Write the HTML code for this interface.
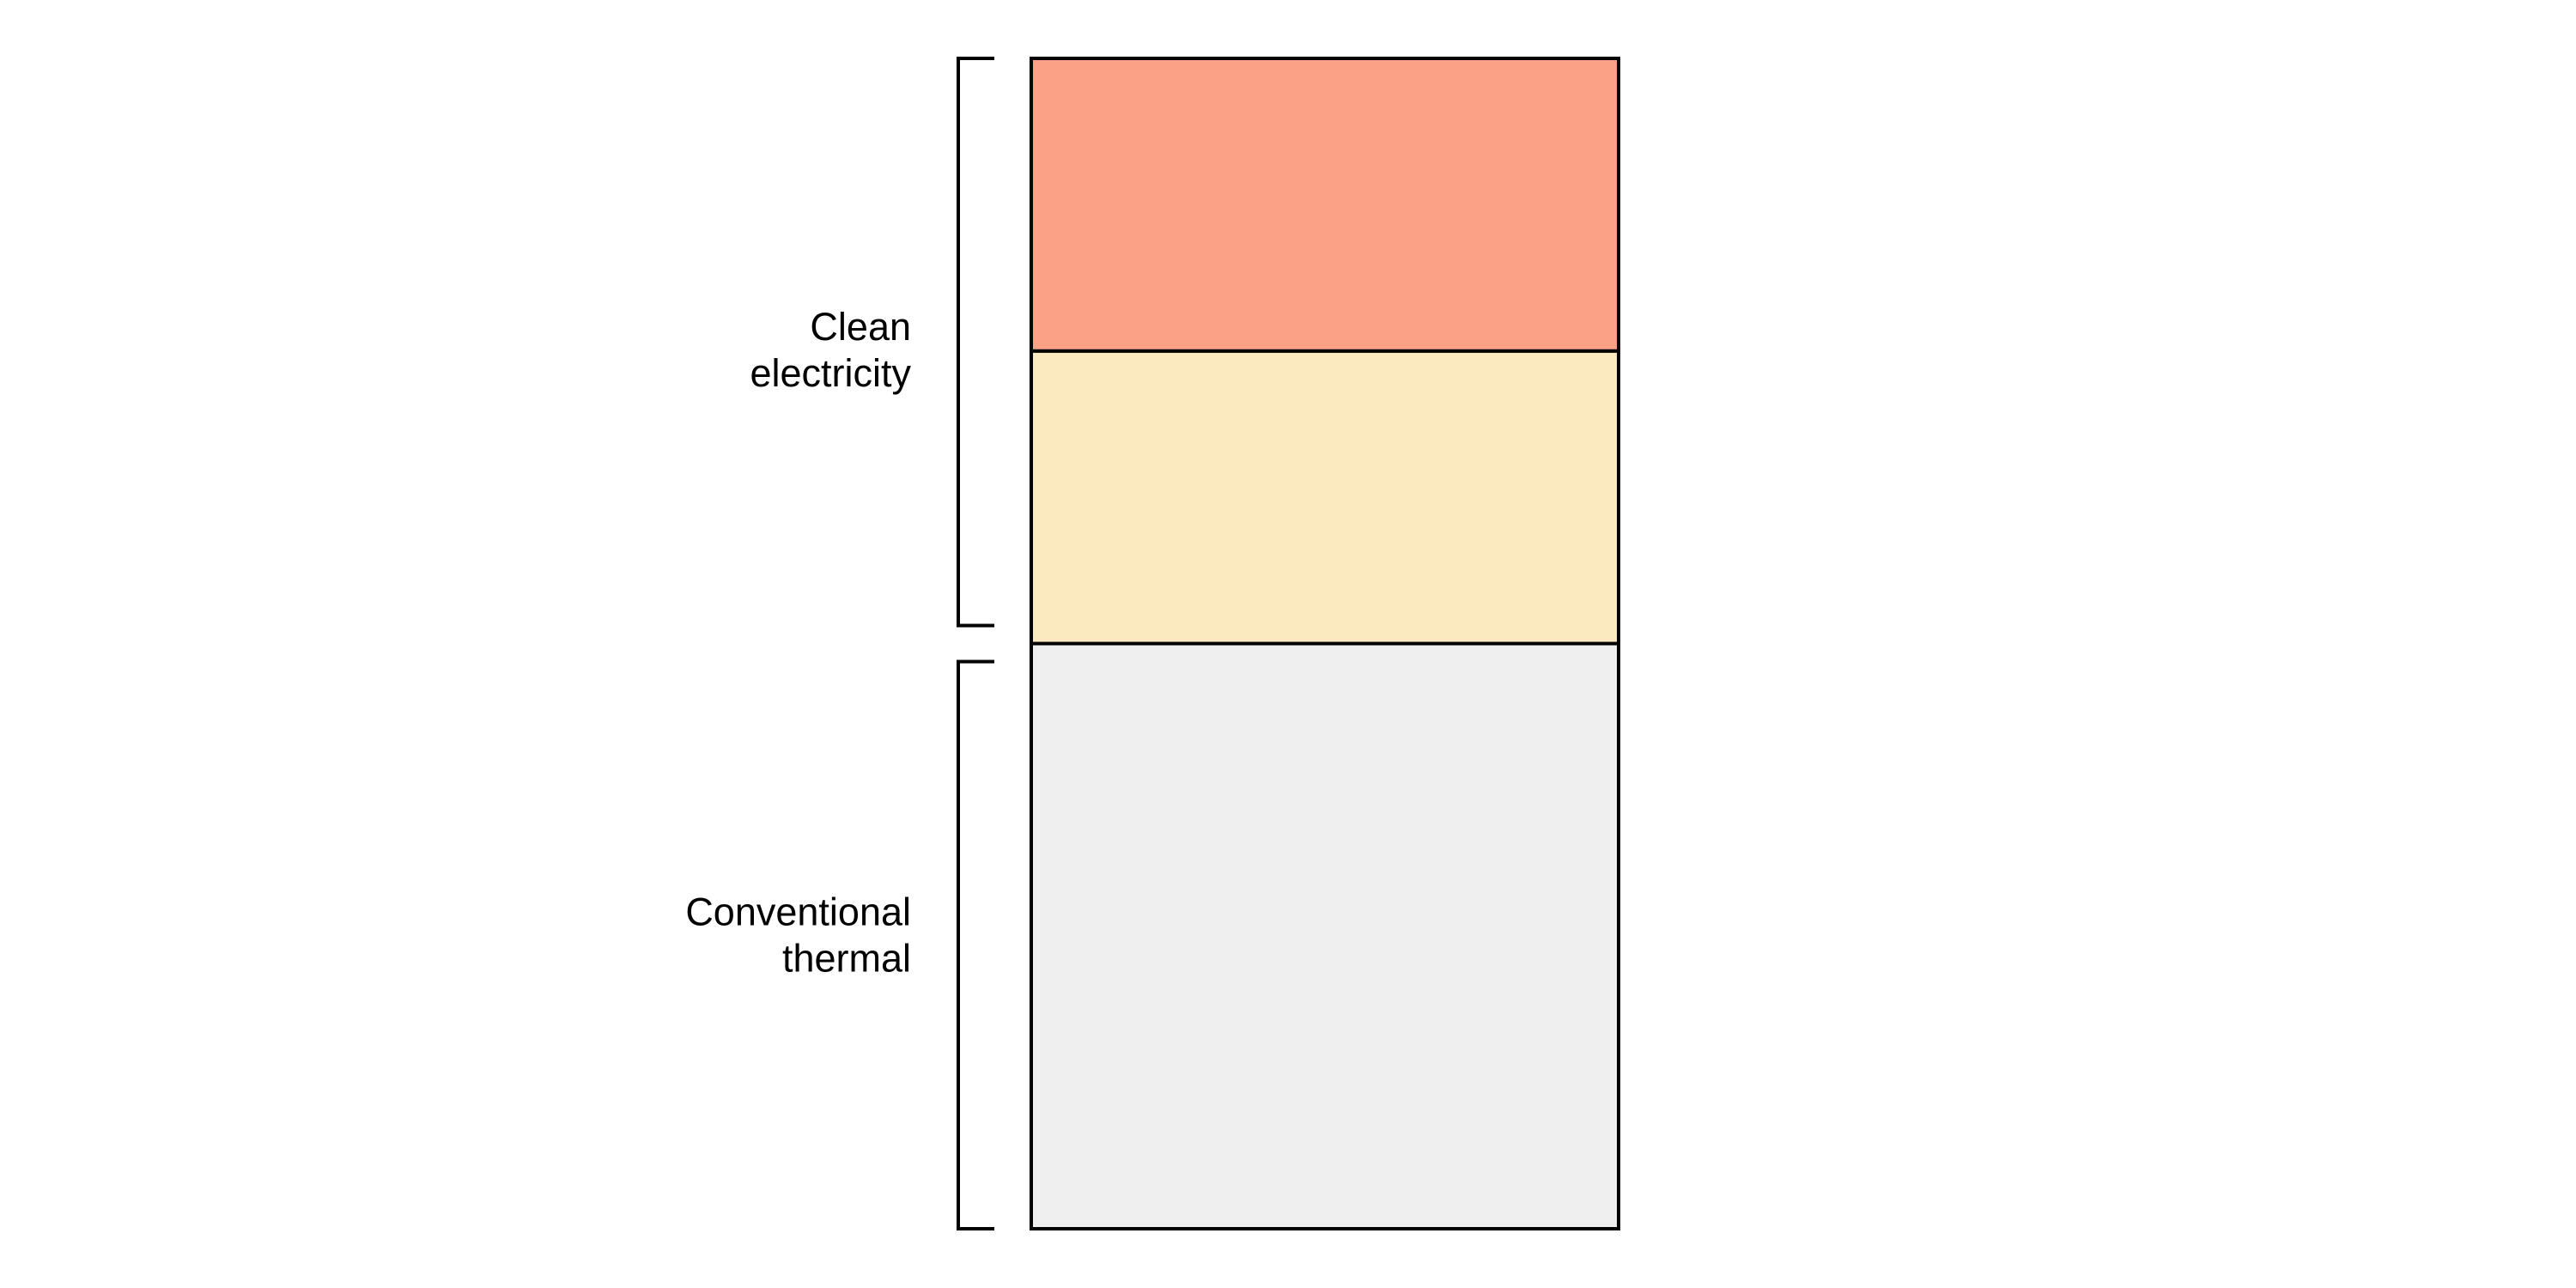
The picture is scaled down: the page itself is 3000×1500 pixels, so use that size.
<!DOCTYPE html>
<html><head><meta charset="utf-8"><style>
html,body{margin:0;padding:0;background:#fff;}
svg{display:block;}
text{font-family:"Liberation Sans",Arial,sans-serif;font-size:45px;fill:#000;}
</style></head><body>
<svg id="chart" width="3000" height="1500" viewBox="0 0 3000 1500" xmlns="http://www.w3.org/2000/svg"></svg>
<script>
const categories = ["Conventional thermal", "Clean electricity A", "Clean electricity B"];
const values = [50, 25, 25];
const colors = ["#efefef", "#fbe9bf", "#fba185"];
const groupLabels = [["Conventional", "thermal"], ["Clean", "electricity"]];
const groupRanges = [[0, 50], [50, 100]];

const svg = document.getElementById('chart');
const NS = 'http://www.w3.org/2000/svg';
const barTop = 68, barBottom = 1431, barLeft = 1201, barRight = 1885;
const total = values.reduce((a, b) => a + b, 0);
function yScale(v) { return barBottom - (v / total) * (barBottom - barTop); }

let cum = 0;
values.forEach((v, i) => {
  const y1 = yScale(cum + v), y0 = yScale(cum);
  const r = document.createElementNS(NS, 'rect');
  r.setAttribute('x', barLeft);
  r.setAttribute('y', y1);
  r.setAttribute('width', barRight - barLeft);
  r.setAttribute('height', y0 - y1);
  r.setAttribute('fill', colors[i]);
  r.setAttribute('stroke', '#000');
  r.setAttribute('stroke-width', 4);
  
  
  svg.appendChild(r);
  cum += v;
});

const gap = 21;
groupRanges.forEach((g, i) => {
  const segB = yScale(g[0]), segT = yScale(g[1]);
  let yb = segB, yt = segT;
  if (g[0] > 0) yb -= gap;
  if (g[1] < total) yt += gap;
  const p = document.createElementNS(NS, 'path');
  p.setAttribute('d', `M1158 ${yt} H1116 V${yb} H1158`);
  p.setAttribute('fill', 'none');
  p.setAttribute('stroke', '#000');
  p.setAttribute('stroke-width', 4);
  
  
  svg.appendChild(p);
  const mid = (segT + segB) / 2;
  const t = document.createElementNS(NS, 'text');
  t.setAttribute('text-anchor', 'end');
  
  
  groupLabels[i].forEach((line, j) => {
    const ts = document.createElementNS(NS, 'tspan');
    ts.setAttribute('x', 1061);
    ts.setAttribute('y', mid + (j === 0 ? -13 : 41));
    ts.textContent = line;
    t.appendChild(ts);
  });
  svg.appendChild(t);
});
</script>
</body></html>
